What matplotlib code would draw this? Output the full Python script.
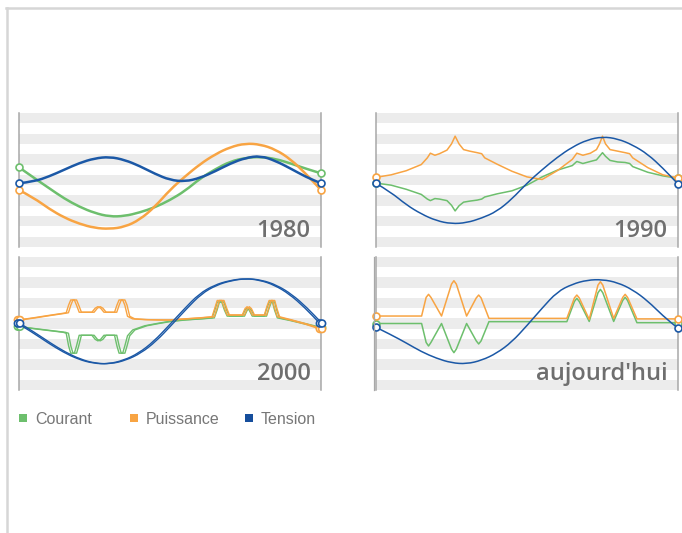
import matplotlib.pyplot as plt
import matplotlib.patheffects as pe
from matplotlib.lines import Line2D
from matplotlib.patches import Rectangle, PathPatch
from matplotlib.path import Path

W, H = 682, 533

VERT = "#6dbf6d"
ORANGE = "#f8a443"
BLEU = "#1b58a6"
BANDE = "#ececec"
AXE = "#a8a8a8"
TEXTE = "#6f6f6f"

SERIES = ["Courant", "Puissance", "Tension"]

# abscisse commune (en % de la largeur du panneau)
X_PAS = [0, 5, 10, 15, 20, 25, 30, 35, 40, 45, 50, 55, 60, 65, 70, 75, 80, 85, 90, 95, 100]

# ---------- 1980 ----------
COURANT_1980 = [1.23, 0.2, -0.8, -1.8, -2.6, -3.2, -3.55, -3.5, -3.15, -2.65, -1.95,
                -1.05, 0.15, 1.05, 1.8, 2.15, 2.25, 2.05, 1.6, 1.1, 0.65]
PUISSANCE_1980 = [-0.97, -1.75, -2.8, -3.65, -4.25, -4.65, -4.75, -4.55, -3.85, -2.6, -0.95,
                  0.35, 1.55, 2.5, 3.2, 3.55, 3.45, 2.95, 2.0, 0.6, -0.97]
TENSION_1980 = [-0.32, -0.15, 0.35, 1.0, 1.65, 2.1, 2.25, 1.95, 1.35, 0.6, 0.0,
                -0.15, 0.2, 0.85, 1.6, 2.15, 2.35, 1.85, 1.1, 0.3, -0.32]

# ---------- 1990 ----------
X_1990 = [0, 5, 10, 15, 17, 18, 19.5, 21, 23.5, 25, 26.2, 27.5, 29, 31, 33.5, 35, 36,
          40, 45, 50, 55, 60, 65, 66.5, 68.5, 71, 73, 74, 75, 76, 77.5, 80, 82.5, 84, 85,
          90, 95, 100]
COURANT_1990 = [-0.3, -0.5, -0.9, -1.4, -1.85, -2.0, -1.8, -1.85, -2.0, -2.45, -3.0, -2.5,
                -2.15, -2.05, -1.95, -1.85, -1.65, -1.35, -1.05, -0.5, 0.3, 0.95, 1.4, 1.8,
                1.6, 1.8, 1.95, 2.3, 2.65, 2.3, 1.9, 1.75, 1.7, 1.6, 1.3, 0.75, 0.4, 0.16]
PUISSANCE_1990 = [0.26, 0.5, 0.9, 1.5, 2.15, 2.6, 2.4, 2.55, 2.9, 3.5, 4.25, 3.5, 2.95,
                  2.8, 2.65, 2.55, 2.15, 1.55, 0.85, 0.3, 0.05, 0.9, 2.0, 2.6, 2.4, 2.6,
                  2.95, 3.5, 4.25, 3.5, 2.95, 2.8, 2.65, 2.55, 2.15, 1.2, 0.5, 0.2]
TENSION_1990 = [-0.32, -1.2, -2.4, -3.3, -3.95, -4.25, -4.15, -3.7, -3.05, -1.85, -0.3,
                1.0, 2.2, 3.2, 3.9, 4.2, 4.0, 3.4, 2.5, 1.15, -0.39]

# ---------- 2000 ----------
X_2000 = [0, 5, 10, 15, 16.0, 16.8, 17.5, 18.7, 19.4, 20.3, 24.5, 25.6, 26.5, 27.4, 28.5,
          32.0, 32.8, 33.5, 34.7, 35.4, 36.3, 38, 42, 46, 50, 55, 60, 64.3, 65.2, 66.0,
          67.5, 68.4, 69.3, 74.3, 75.2, 75.9, 76.6, 77.6, 81.6, 82.5, 83.2, 84.3, 85.0,
          85.9, 90, 95, 100]
COURANT_2000 = [-0.31, -0.5, -0.68, -0.86, -0.95, -2.2, -2.9, -2.9, -2.2, -1.15, -1.15,
                -1.55, -1.7, -1.55, -1.15, -1.15, -2.2, -2.9, -2.9, -2.2, -1.2, -0.63,
                -0.22, 0.0, 0.2, 0.35, 0.45, 0.55, 1.3, 2.1, 2.1, 1.3, 0.72, 0.72, 1.3,
                1.5, 1.3, 0.72, 0.72, 1.55, 2.1, 2.1, 1.3, 0.55, 0.3, -0.05, -0.4]
PUISSANCE_2000 = [0.34, 0.55, 0.78, 1.0, 1.05, 1.8, 2.3, 2.3, 1.8, 1.1, 1.1, 1.5, 1.65,
                  1.5, 1.1, 1.1, 1.8, 2.3, 2.3, 1.8, 0.7, 0.45, 0.38, 0.35, 0.34, 0.45,
                  0.55, 0.66, 1.5, 2.25, 2.25, 1.5, 0.83, 0.83, 1.45, 1.64, 1.45, 0.83,
                  0.83, 1.7, 2.25, 2.25, 1.5, 0.66, 0.35, -0.05, -0.54]
TENSION_2000 = [0.0, -0.9, -1.9, -2.8, -3.5, -3.9, -3.95, -3.6, -2.9, -1.75, -0.2,
                1.4, 2.9, 3.75, 4.2, 4.4, 4.25, 3.75, 2.85, 1.55, 0.0]

# ---------- aujourd'hui ----------
X_AUJ = [0, 15.1, 16.6, 17.4, 18.2, 21.7, 25.0, 25.8, 26.6, 30.0, 33.2, 34.0, 34.8, 37.4,
         63.2, 65.7, 66.5, 67.3, 70.6, 73.5, 74.3, 75.1, 78.7, 81.7, 82.5, 83.3, 86.4, 100]
COURANT_AUJ = [0.0, 0.0, -1.85, -2.2, -1.85, 0.0, -2.5, -2.85, -2.5, 0.0, -1.7, -2.0, -1.7,
               0.18, 0.18, 2.15, 2.46, 2.15, 0.2, 3.0, 3.34, 3.0, 0.2, 2.25, 2.56, 2.25,
               0.08, 0.08]
PUISSANCE_AUJ = [0.73, 0.73, 2.55, 2.85, 2.55, 0.73, 3.85, 4.18, 3.85, 0.73, 2.5, 2.78, 2.5,
                 0.5, 0.5, 2.5, 2.78, 2.5, 0.4, 3.75, 4.08, 3.75, 0.5, 2.55, 2.85, 2.55,
                 0.45, 0.45]
TENSION_AUJ = [-0.37, -1.1, -1.9, -2.75, -3.4, -3.85, -3.95, -3.6, -2.9, -1.8, -0.2,
               1.5, 3.1, 3.85, 4.25, 4.3, 4.0, 3.3, 2.2, 0.75, -0.47]


def px_axes(fig, x0, y0, x1, y1):
    return fig.add_axes([x0 / W, 1 - y1 / H, (x1 - x0) / W, (y1 - y0) / H])


def courbe_lisse(ax, x, y, color, lw, effets=None):
    # courbe quadratique passant par les milieux des segments
    verts = [(x[0], y[0])]
    codes = [Path.MOVETO]
    for i in range(1, len(x) - 1):
        verts += [(x[i], y[i]), ((x[i] + x[i + 1]) / 2, (y[i] + y[i + 1]) / 2)]
        codes += [Path.CURVE3, Path.CURVE3]
    verts.append((x[-1], y[-1]))
    codes.append(Path.LINETO)
    ax.add_patch(PathPatch(Path(verts, codes), fill=False, edgecolor=color, lw=lw,
                           capstyle="round", joinstyle="round", zorder=3,
                           path_effects=effets))


def draw_panel(ax, x, courant, puissance, tension, label, lw, lisse=False, effets=None):
    for k in range(-6, 7, 2):
        ax.axhspan(k - 0.5, k + 0.5, color=BANDE, lw=0, zorder=0)
    for xs, ys, c in [(x, courant, VERT), (x, puissance, ORANGE), (X_PAS, tension, BLEU)]:
        if lisse or c == BLEU:
            courbe_lisse(ax, xs, ys, c, lw, effets)
            ax.plot([xs[0], xs[-1]], [ys[0], ys[-1]], ls="none", marker="o", mfc="white",
                    mec=c, ms=5, mew=1.2, clip_on=False, zorder=4, path_effects=effets)
        else:
            ax.plot(xs, ys, color=c, lw=lw, marker="o", markevery=[0, len(xs) - 1],
                    mfc="white", mec=c, ms=5, mew=1.2, clip_on=False, zorder=3,
                    path_effects=effets, solid_joinstyle="round")
    ax.set_xlim(0, 100)
    ax.set_ylim(-6.5, 6.5)
    ax.set_xticks([])
    ax.set_yticks([])
    for s in ["top", "bottom"]:
        ax.spines[s].set_visible(False)
    for s in ["left", "right"]:
        ax.spines[s].set_color(AXE)
        ax.spines[s].set_linewidth(1.1)
    ax.text(0.965, 0.075, label, transform=ax.transAxes, ha="right", va="baseline",
            fontsize=17, fontweight="semibold", family="Open Sans", color=TEXTE, zorder=2)


fig = plt.figure(figsize=(W / 100, H / 100), dpi=100)

ax1 = px_axes(fig, 19, 113, 321, 247)
draw_panel(ax1, X_PAS, COURANT_1980, PUISSANCE_1980, TENSION_1980, "1980", 1.8, lisse=True)

ax2 = px_axes(fig, 376, 113, 678, 247)
draw_panel(ax2, X_1990, COURANT_1990, PUISSANCE_1990, TENSION_1990, "1990", 1.1)

# tracé doublé (léger décalage horizontal)
double = [pe.Stroke(offset=(-0.8, 0)), pe.Stroke(offset=(0.8, 0))]
ax3 = px_axes(fig, 19, 257, 321, 390)
draw_panel(ax3, X_2000, COURANT_2000, PUISSANCE_2000, TENSION_2000, "2000", 1.0,
           effets=double)

ax4 = px_axes(fig, 376, 257, 678, 390)
draw_panel(ax4, X_AUJ, COURANT_AUJ, PUISSANCE_AUJ, TENSION_AUJ, "aujourd'hui", 1.1)
fig.add_artist(Line2D([373.8 / W] * 2, [1 - 390 / H, 1 - 257 / H], color=AXE, lw=0.9))

# légende
for (xc, c, nom) in [(23, VERT, SERIES[0]), (134, ORANGE, SERIES[1]), (249, "#164e9c", SERIES[2])]:
    fig.add_artist(Rectangle(((xc - 4) / W, 1 - 422 / H), 8 / W, 8 / H, color=c, lw=0))
    fig.text((xc + 12) / W, 1 - 419.5 / H, nom, ha="left", va="center", fontsize=11.5,
             family="Liberation Sans", color="#777777")

# cadre
fig.add_artist(Line2D([6 / W, 1], [1 - 8 / H] * 2, color="#d6d6d6", lw=1.8))
fig.add_artist(Line2D([6.5 / W] * 2, [0, 1 - 8 / H], color="#d6d6d6", lw=1.8))

fig.savefig("out.png", dpi=100)
